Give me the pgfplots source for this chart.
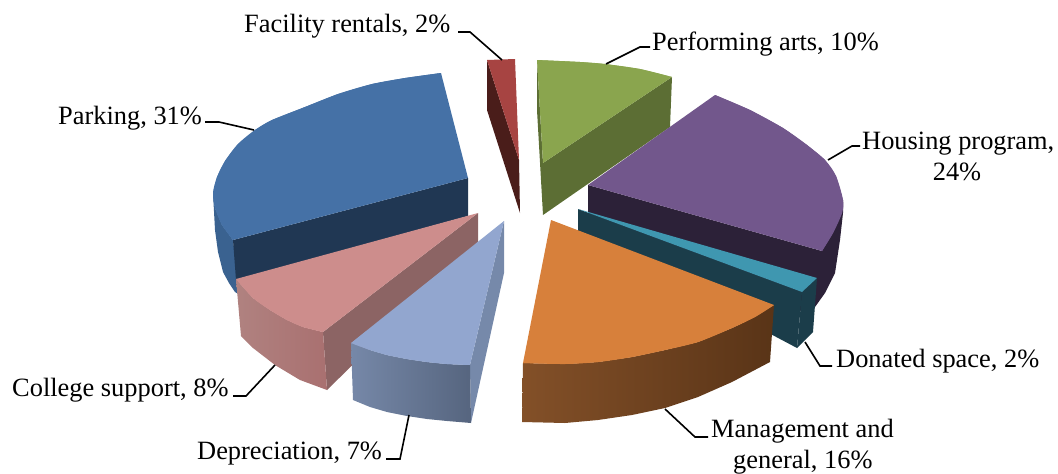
\documentclass[border=0pt]{standalone}
\usepackage{pgfplots}
\usepackage{fontspec}
\setmainfont{Liberation Serif}
\pgfplotsset{compat=1.18}
\definecolor{bluetop}{HTML}{4571A6}
\definecolor{blueside}{HTML}{3A6290}
\definecolor{bluedark}{HTML}{203753}
\definecolor{redtop}{HTML}{A74442}
\definecolor{reddark}{HTML}{4A1D1A}
\definecolor{greentop}{HTML}{8AA54E}
\definecolor{greendark}{HTML}{5C6E34}
\definecolor{purpletop}{HTML}{72578C}
\definecolor{purpledark}{HTML}{2C2138}
\definecolor{tealtop}{HTML}{3F97B0}
\definecolor{tealdark}{HTML}{1B3D4A}
\definecolor{pinktop}{HTML}{CD8D8C}
\definecolor{pinkdark}{HTML}{8C6464}
\definecolor{pinkA}{HTML}{B08280}
\definecolor{pinkB}{HTML}{A97070}
\definecolor{ltop}{HTML}{92A6CF}
\definecolor{ldark}{HTML}{7689AA}
\definecolor{lA}{HTML}{7688A8}
\definecolor{lB}{HTML}{56657F}
\definecolor{otop}{HTML}{D7803B}
\definecolor{oA}{HTML}{835028}
\definecolor{oB}{HTML}{593417}
\tikzset{leader/.style={draw=black,line width=1.6pt},
  lab/.style={inner sep=0pt,font=\fontsize{26.4}{30}\selectfont}}
\begin{document}
\begin{tikzpicture}
\begin{axis}[scale only axis,width=1058pt,height=473pt,xmin=0,xmax=1058,ymin=0,ymax=473,
  y dir=reverse,hide axis,clip=false,no markers]
\addplot[draw=none] coordinates {(0,0)(1058,473)};
% Parking
\addplot[fill=blueside,draw=none] coordinates {(213,193)(215,208)(222,225)(233,240)(238,280)(240,295)(235,292)(229,283)(223,272)(218,252)(215,230)(213,193)};
\addplot[fill=bluedark,draw=none] coordinates {(468,178)(468,216)(236,280)(233,240)(468,178)};
\addplot[fill=bluetop,draw=none] coordinates {(468,178)(233,240)(222,225)(215,208)(213,193)(217,177)(225,161)(238,144)(255,130)(272,120)(305,107)(338,94)(372,84)(405,78)(441,73)(468,178)};
\addplot[smooth,fill=bluetop,draw=none] coordinates {(441,73)(405,78)(372,84)(338,94)(305,107)(272,120)(255,130)(238,144)(225,161)(217,177)(213,193)(215,208)(222,225)(233,240)};
% Facility rentals
\addplot[fill=reddark,draw=none] coordinates {(487,60)(487,110)(520,213)(519,160)(487,60)};
\addplot[fill=redtop,draw=none] coordinates {(487,60)(515,59)(519,160)(487,60)};
% Performing arts
\addplot[fill=greendark,draw=none] coordinates {(537,60)(537,110)(543,215)(670,127)(672,77)(543,163)(537,60)};
\addplot[fill=greentop,draw=none] coordinates {(537,60)(580,62)(605,64)(640,69)(672,77)(543,163)(537,60)};
\addplot[smooth,fill=greentop,draw=none] coordinates {(537,60)(580,62)(605,64)(640,69)(672,77)};
% Housing program
\addplot[fill=purpledark,draw=none] coordinates {(588,185)(588,215)(810,315)(815,307)(825,293)(835,273)(840,240)(843,213)(843,200)(822,251)(588,185)};
\addplot[fill=purpletop,draw=none] coordinates {(715,95)(588,185)(822,251)(833,233)(842,213)(843,200)(836,176)(825,160)(807,145)(783,128)(750,110)(715,95)};
\addplot[smooth,fill=purpletop,draw=none] coordinates {(715,95)(750,110)(783,128)(807,145)(825,160)(836,176)(843,200)(842,213)(833,233)(822,251)};
% Donated space
\addplot[fill=tealdark,draw=none] coordinates {(578,209)(578,232)(797,348)(802,292)(578,209)};
\addplot[fill=tealdark,draw=none] coordinates {(817,278)(813,332)(797,348)(802,292)(817,278)};
\addplot[fill=tealtop,draw=none] coordinates {(578,209)(817,278)(802,292)(578,209)};
% College support
\addplot[fill=pinkdark,draw=none] coordinates {(478,213)(478,242)(327,390)(323,332)(478,213)};
\addplot[left color=pinkA,right color=pinkB,draw=none] coordinates {(236,279)(253,298)(270,310)(287,320)(303,327)(323,332)(327,390)(300,380)(275,365)(253,348)(241,336)(236,279)};
\addplot[fill=pinktop,draw=none] coordinates {(478,213)(236,279)(253,298)(270,310)(287,320)(303,327)(323,332)(478,213)};
\addplot[smooth,fill=pinktop,draw=none] coordinates {(236,279)(253,298)(270,310)(287,320)(303,327)(323,332)};
% Depreciation
\addplot[fill=ldark,draw=none] coordinates {(504,221)(504,273)(471,423)(470,365)(504,221)};
\addplot[left color=lA,right color=lB,draw=none] coordinates {(351,343)(370,350)(387,355)(407,359)(427,362)(447,364)(470,365)(471,423)(447,421)(427,419)(407,416)(387,412)(370,407)(353,400)(351,343)};
\addplot[fill=ltop,draw=none] coordinates {(504,221)(351,343)(370,350)(387,355)(407,359)(427,362)(447,364)(470,365)(504,221)};
\addplot[smooth,fill=ltop,draw=none] coordinates {(351,343)(370,350)(387,355)(407,359)(427,362)(447,364)(470,365)};
% Management and general
\addplot[left color=oA,right color=oB,draw=none] coordinates {(523,363)(565,364)(598,362)(632,357)(665,350)(698,342)(732,328)(755,317)(774,305)(770,362)(732,382)(698,397)(665,408)(632,415)(598,420)(565,423)(522,422)(523,363)};
\addplot[fill=otop,draw=none] coordinates {(551,220)(774,305)(755,317)(732,328)(698,342)(665,350)(632,357)(598,362)(565,364)(523,363)(551,220)};
\addplot[smooth,fill=otop,draw=none] coordinates {(523,363)(565,364)(598,362)(632,357)(665,350)(698,342)(732,328)(755,317)(774,305)};
% Leader lines
\addplot[leader] coordinates {(458,32)(470,32)(502,60)};
\addplot[leader] coordinates {(606,64)(640,47)(650,47)};
\addplot[leader] coordinates {(828,160)(852,146)(860,146)};
\addplot[leader] coordinates {(254,130)(219,122)(205,122)};
\addplot[leader] coordinates {(275,365)(246,396)(233,396)};
\addplot[leader] coordinates {(409,415)(400,459)(386,459)};
\addplot[leader] coordinates {(665,409)(695,437)(708,437)};
\addplot[leader] coordinates {(805,342)(820,366)(832,366)};
% Labels
\node[lab,anchor=base west] at (axis cs:244,32) {Facility rentals, 2\%};
\node[lab,anchor=base west] at (axis cs:652,50) {Performing arts, 10\%};
\node[lab,anchor=base west] at (axis cs:862,149) {Housing program,};
\node[lab,anchor=base] at (axis cs:957,180) {24\%};
\node[lab,anchor=base west] at (axis cs:58,124) {Parking, 31\%};
\node[lab,anchor=base west] at (axis cs:12,396) {College support, 8\%};
\node[lab,anchor=base west] at (axis cs:197,459) {Depreciation, 7\%};
\node[lab,anchor=base west] at (axis cs:711,437) {Management and};
\node[lab,anchor=base west] at (axis cs:733,468) {general, 16\%};
\node[lab,anchor=base west] at (axis cs:836,367) {Donated space, 2\%};
\end{axis}
\end{tikzpicture}
\end{document}
